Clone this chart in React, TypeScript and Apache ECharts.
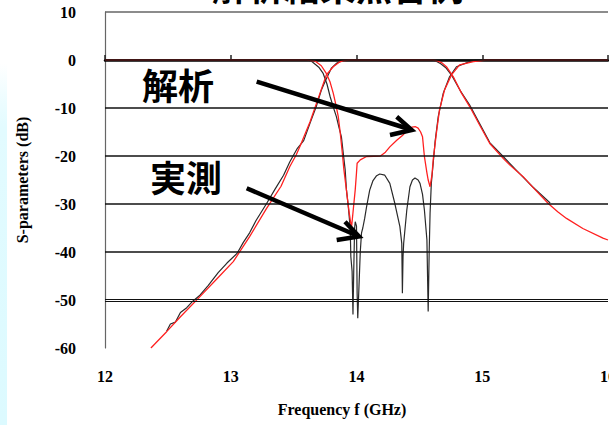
import React, { useEffect, useRef } from "react";
import * as echarts from "echarts";

// Frequency (GHz) / S-parameter (dB) pairs
const simS21: [number, number][] = [
  [12.365, -60], [12.49, -56.6], [12.6, -53.5], [12.755, -49.3], [12.9, -45.3], [13.02, -42.0],
  [13.15, -36.8], [13.285, -30.9], [13.4, -26.3], [13.47, -22.2], [13.52, -19.8], [13.55, -18.0],
  [13.63, -12.9], [13.71, -6.9], [13.76, -3.1], [13.815, -1.4], [13.86, -0.5], [13.9, -0.1],
  [13.95, 0], [14.6, 0], [14.635, -0.1], [14.68, -0.6], [14.715, -1.4], [14.77, -3.5],
  [14.835, -6.9], [14.9, -9.7], [14.98, -13.6], [15.06, -17.4], [15.17, -20.6], [15.22, -21.9],
  [15.325, -24.3], [15.42, -27.0], [15.525, -29.9], [15.6, -31.6], [15.67, -33.0], [15.8, -35.1],
  [15.96, -37.1], [16, -37.5],
];

const simS11: [number, number][] = [
  [12, 0], [13.6, 0], [13.67, -0.2], [13.72, -1.2], [13.76, -2.8], [13.79, -4.6], [13.815, -6.9],
  [13.835, -9.2], [13.855, -11.8], [13.87, -15.0], [13.885, -18.8], [13.9, -22.9], [13.92, -27.1],
  [13.94, -31.5], [13.96, -35.0], [13.975, -31.0], [13.99, -27.0], [14.0, -23.5], [14.005, -21.5],
  [14.03, -20.8], [14.08, -20.1], [14.19, -20.0], [14.23, -19.2], [14.265, -18.1], [14.32, -16.7],
  [14.37, -15.6], [14.41, -14.6], [14.44, -14.0], [14.47, -13.9], [14.49, -14.2], [14.51, -15.0],
  [14.525, -16.0], [14.54, -20.1], [14.56, -23.5], [14.57, -25.0], [14.585, -26.4], [14.6, -24.0],
  [14.61, -20.8], [14.635, -15.3], [14.66, -10.4], [14.7, -6.25], [14.755, -3.1], [14.82, -1.0],
  [14.93, -0.35], [15.03, 0], [16, 0],
];

const measS21: [number, number][] = [
  [12.49, -56.5], [12.52, -55.0], [12.56, -54.6], [12.6, -52.6], [12.65, -51.6], [12.7, -50.2],
  [12.755, -49.0], [12.82, -47.0], [12.9, -44.3], [12.97, -42.3], [13.05, -40.3], [13.1, -38.0],
  [13.15, -36.0], [13.2, -33.5], [13.285, -29.9], [13.35, -27.0], [13.42, -24.0], [13.47, -21.2],
  [13.53, -18.4], [13.58, -16.8], [13.63, -13.2], [13.68, -9.7], [13.72, -6.3], [13.75, -4.5],
  [13.8, -1.7], [13.84, -0.7], [13.87, -0.3], [13.92, 0], [14.6, 0], [14.63, -0.2], [14.67, -0.8],
  [14.71, -1.6], [14.76, -3.3], [14.83, -6.6], [14.9, -9.4], [14.98, -13.3], [15.06, -17.2],
  [15.17, -20.2], [15.28, -23.2], [15.4, -26.4], [15.54, -29.8],
];

const measS11: [number, number][] = [
  [12, 0], [13.6, 0], [13.64, -0.2], [13.7, -1.5], [13.735, -2.8], [13.765, -5.0], [13.79, -7.6],
  [13.815, -9.8], [13.84, -11.8], [13.86, -14.0], [13.88, -16.0], [13.895, -19.5], [13.91, -22.9],
  [13.92, -27.0], [13.935, -30.6], [13.95, -35.0], [13.955, -41.0], [13.965, -44.0], [13.972, -53.0],
  [13.978, -44.0], [13.985, -35.0], [13.99, -33.7], [14.0, -34.6], [14.005, -48.6], [14.01, -53.8],
  [14.02, -47.0], [14.03, -40.0], [14.04, -36.0], [14.05, -35.0], [14.065, -33.0], [14.08, -30.6],
  [14.105, -27.1], [14.13, -25.2], [14.16, -24.1], [14.185, -23.75], [14.225, -24.0], [14.265, -25.7],
  [14.305, -29.9], [14.345, -34.7], [14.36, -38.2], [14.365, -48.6], [14.37, -41.0], [14.375, -38.2],
  [14.4, -31.25], [14.425, -26.4], [14.445, -25.0], [14.465, -24.6], [14.49, -25.0], [14.505, -25.7],
  [14.525, -28.0], [14.54, -31.25], [14.56, -37.5], [14.57, -52.4], [14.578, -40.0], [14.585, -32.0],
  [14.595, -25.7], [14.61, -21.5], [14.625, -17.0], [14.65, -11.8], [14.69, -6.9], [14.74, -3.5],
  [14.795, -1.4], [14.9, -0.35], [14.95, 0], [16, 0],
];

const gridLevels = [0, -10, -20, -30, -40];
const doubleLevels = [-49.8, -50.25];
const topLevel = 10;

const title = "解析結果照合例";
const simLabel = "解析";
const measLabel = "実測";
const xName = "Frequency f (GHz)";
const yName = "S-parameters (dB)";

const serif = "'Liberation Serif', 'Times New Roman', serif";
const cjk = "'Noto Sans CJK JP', sans-serif";

export default function App() {
  const ref = useRef<HTMLDivElement>(null);
  useEffect(() => {
    if (!ref.current) return;
    const chart = echarts.init(ref.current, null, { renderer: "svg" });
    const black = "#000";
    const lineStyle = (color: string, width: number) => ({ color, width });
    chart.setOption({
      animation: false,
      backgroundColor: "#fff",
      grid: { left: 105, top: 12, right: 1, bottom: 77, outerBoundsMode: "none", containLabel: false },
      xAxis: {
        type: "value",
        min: 12,
        max: 16,
        interval: 1,
        name: xName,
        nameLocation: "middle",
        nameGap: 53,
        nameTextStyle: { fontFamily: serif, fontWeight: "bold", fontSize: 16, color: black, padding: [0, 29, 0, 0] },
        axisLine: { lineStyle: { color: black, width: 2.5 } },
        axisTick: { inside: true, length: 5, lineStyle: { color: "#222", width: 1.5 } },
        axisLabel: { fontFamily: serif, fontWeight: "bold", fontSize: 16, color: black, margin: 20 },
        splitLine: { show: false },
      },
      yAxis: {
        type: "value",
        min: -60,
        max: 10,
        interval: 10,
        name: yName,
        nameLocation: "middle",
        nameGap: 75,
        nameTextStyle: { fontFamily: serif, fontWeight: "bold", fontSize: 16, color: black },
        axisLine: { show: true, lineStyle: { color: "#666", width: 1.2 } },
        axisTick: { show: false },
        axisLabel: { fontFamily: serif, fontWeight: "bold", fontSize: 16, color: black, margin: 29 },
        splitLine: { show: false },
      },
      graphic: [
        {
          type: "rect",
          shape: { x: 0, y: 0, width: 7, height: 425 },
          style: {
            fill: new echarts.graphic.LinearGradient(0, 0, 0, 1, [
              { offset: 0, color: "rgba(220,250,255,0)" },
              { offset: 0.15, color: "rgba(220,250,255,0)" },
              { offset: 0.3, color: "#e2fbff" },
              { offset: 1, color: "#dcfaff" },
            ]),
          },
          silent: true,
        },
        {
          type: "text",
          x: 338,
          y: 3,
          style: { text: title, fontFamily: cjk, fontWeight: "bold", fontSize: 36, fill: black, align: "center", verticalAlign: "bottom" },
        },
        {
          type: "text",
          x: 178,
          y: 84,
          style: { text: simLabel, fontFamily: cjk, fontWeight: "bold", fontSize: 36, fill: black, align: "center", verticalAlign: "middle" },
        },
        {
          type: "text",
          x: 186,
          y: 176,
          style: { text: measLabel, fontFamily: cjk, fontWeight: "bold", fontSize: 36, fill: black, align: "center", verticalAlign: "middle" },
        },
        {
          type: "line",
          shape: { x1: 256.7, y1: 81.7, x2: 409, y2: 129 },
          style: { stroke: black, lineWidth: 4.5 },
          z: 100,
        },
        {
          type: "polyline",
          shape: { points: [[396.7, 116.7], [411.7, 130], [390, 135]] },
          style: { stroke: black, lineWidth: 4.5, fill: null },
          z: 100,
        },
        {
          type: "line",
          shape: { x1: 246.7, y1: 188.3, x2: 357, y2: 235.5 },
          style: { stroke: black, lineWidth: 4.5 },
          z: 100,
        },
        {
          type: "polyline",
          shape: { points: [[345, 221.7], [359, 236.5], [336.7, 240]] },
          style: { stroke: black, lineWidth: 4.5, fill: null },
          z: 100,
        },
      ],
      series: [
        {
          type: "line",
          data: [],
          z: 1,
          silent: true,
          markLine: {
            symbol: "none",
            silent: true,
            label: { show: false },
            lineStyle: { color: "#111", width: 1.6, type: "solid" },
            data: [
              ...gridLevels.map((v) => ({ yAxis: v })),
              ...doubleLevels.map((v) => ({ yAxis: v, lineStyle: { color: "#111", width: 1, type: "solid" } })),
              { yAxis: topLevel, lineStyle: { color: "#666", width: 1.5, type: "solid" } },
            ],
          },
        },
        { type: "line", data: measS11, showSymbol: false, z: 2, lineStyle: lineStyle("#2a2a2a", 1.2) },
        { type: "line", data: measS21, showSymbol: false, z: 2, lineStyle: lineStyle("#2a2a2a", 1.2) },
        { type: "line", data: simS21, showSymbol: false, z: 3, lineStyle: lineStyle("#ff2020", 1.3) },
        { type: "line", data: simS11, showSymbol: false, z: 3, lineStyle: lineStyle("#ff2020", 1.3) },
      ],
    });
    return () => chart.dispose();
  }, []);
  return (
    <div
      ref={ref}
      style={{ position: "fixed", left: 0, top: 0, width: 609, height: 425, background: "#fff" }}
    />
  );
}
